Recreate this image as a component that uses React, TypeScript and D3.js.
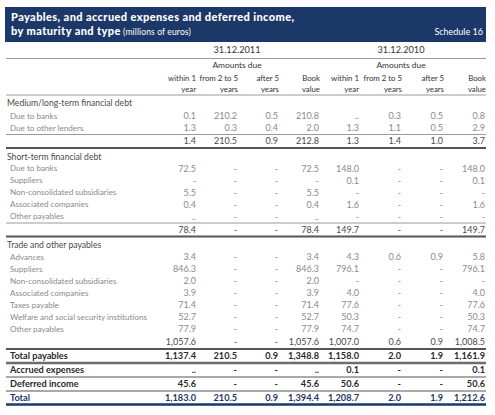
import React from "react";
import * as d3 from "d3";

const W = 495;
const H = 415;

const titleLine1 = "Payables, and accrued expenses and deferred income,";
const titleLine2Bold = "by maturity and type";
const titleLine2Unit = " (millions of euros)";
const scheduleLabel = "Schedule 16";

const periods = ["31.12.2011", "31.12.2010"];
const amountsDue = "Amounts due";
const colHeads = [
  ["within 1", "year"],
  ["from 2 to 5", "years"],
  ["after 5", "years"],
  ["Book", "value"],
];

const mediumTitle = "Medium/long-term financial debt";
const mediumLabels = ["Due to banks", "Due to other lenders"];
const mediumValues = [
  ["0.1", "210.2", "0.5", "210.8", "..", "0.3", "0.5", "0.8"],
  ["1.3", "0.3", "0.4", "2.0", "1.3", "1.1", "0.5", "2.9"],
];
const mediumSubtotal = ["1.4", "210.5", "0.9", "212.8", "1.3", "1.4", "1.0", "3.7"];

const shortTitle = "Short-term financial debt";
const shortLabels = ["Due to banks", "Suppliers", "Non-consolidated subsidiaries", "Associated companies", "Other payables"];
const shortValues = [
  ["72.5", "-", "-", "72.5", "148.0", "-", "-", "148.0"],
  ["-", "-", "-", "-", "0.1", "-", "-", "0.1"],
  ["5.5", "-", "-", "5.5", "-", "-", "-", "-"],
  ["0.4", "-", "-", "0.4", "1.6", "-", "-", "1.6"],
  ["..", "-", "-", "..", "-", "-", "-", "-"],
];
const shortSubtotal = ["78.4", "-", "-", "78.4", "149.7", "-", "-", "149.7"];

const tradeTitle = "Trade and other payables";
const tradeLabels = [
  "Advances",
  "Suppliers",
  "Non-consolidated subsidiaries",
  "Associated companies",
  "Taxes payable",
  "Welfare and social security institutions",
  "Other payables",
];
const tradeValues = [
  ["3.4", "-", "-", "3.4", "4.3", "0.6", "0.9", "5.8"],
  ["846.3", "-", "-", "846.3", "796.1", "-", "-", "796.1"],
  ["2.0", "-", "-", "2.0", "-", "-", "-", "-"],
  ["3.9", "-", "-", "3.9", "4.0", "-", "-", "4.0"],
  ["71.4", "-", "-", "71.4", "77.6", "-", "-", "77.6"],
  ["52.7", "-", "-", "52.7", "50.3", "-", "-", "50.3"],
  ["77.9", "-", "-", "77.9", "74.7", "-", "-", "74.7"],
];
const tradeSubtotal = ["1,057.6", "-", "-", "1,057.6", "1,007.0", "0.6", "0.9", "1,008.5"];

const totalLabels = ["Total payables", "Accrued expenses", "Deferred income", "Total"];
const totalValues = [
  ["1,137.4", "210.5", "0.9", "1,348.8", "1,158.0", "2.0", "1.9", "1,161.9"],
  ["..", "-", "-", "..", "0.1", "-", "-", "0.1"],
  ["45.6", "-", "-", "45.6", "50.6", "-", "-", "50.6"],
  ["1,183.0", "210.5", "0.9", "1,394.4", "1,208.7", "2.0", "1.9", "1,212.6"],
];

const NAVY = "#1c3868";
const FONT = "Lato, 'Open Sans', sans-serif";

type Row = { kind: string; label?: string; values?: string[]; y: number };
type Rule = { y: number; w: number; c: string };

function layout() {
  const rows: Row[] = [];
  const rules: Rule[] = [];
  let y = 95;
  rules.push({ y, w: 1, c: "#9a9a9a" });
  const section = (title: string, labels: string[], vals: string[][], sub: string[], subLine: boolean, first: boolean) => {
    y += first ? 8 : 8.5;
    rows.push({ kind: "section", label: title, y });
    y += first ? 13 : 12;
    labels.forEach((l, i) => {
      rows.push({ kind: "item", label: l, values: vals[i], y });
      if (i < labels.length - 1) y += 12;
    });
    if (subLine) {
      y += 6.5;
      rules.push({ y, w: 1, c: "#9a9a9a" });
      y += 6.5;
    } else {
      y += 13;
    }
    rows.push({ kind: "subtotal", values: sub, y });
    y += 7;
    rules.push({ y, w: 2, c: "#555" });
  };
  section(mediumTitle, mediumLabels, mediumValues, mediumSubtotal, true, true);
  section(shortTitle, shortLabels, shortValues, shortSubtotal, true, false);
  section(tradeTitle, tradeLabels, tradeValues, tradeSubtotal, false, false);
  const gaps = [7, 7, 7, 6.5];
  const after = [
    { w: 2.5, c: "#6d6d6d" },
    { w: 1, c: "#555" },
    { w: 1, c: "#555" },
    { w: 2.5, c: NAVY },
  ];
  totalLabels.forEach((l, i) => {
    y += gaps[i];
    rows.push({ kind: i === 3 ? "grand" : "total", label: l, values: totalValues[i], y });
    y += 7;
    rules.push({ y, ...after[i] });
  });
  return { rows, rules };
}

export default function App() {
  const left = 6;
  const right = 486;
  const x2011 = d3.scalePoint<number>().domain([0, 1, 2, 3]).range([196, 319]);
  const x2010 = d3.scalePoint<number>().domain([0, 1, 2, 3]).range([359, 485]);
  const colX = (i: number) => (i < 4 ? x2011(i)! : x2010(i - 4)!);
  const groupCenter = [(x2011(0)! + x2011(2)!) / 2, (x2010(0)! + x2010(2)!) / 2];
  const { rows, rules } = layout();

  const rowStyle = (kind: string) => {
    if (kind === "item") return { fill: "#8a8a8a", weight: 400, size: 8.1, vsize: 9 };
    if (kind === "section") return { fill: "#4a4a4a", weight: 400, size: 8.6, vsize: 9 };
    if (kind === "subtotal") return { fill: "#4a4a4a", weight: 400, size: 9, vsize: 9 };
    if (kind === "total") return { fill: "#2a2a2a", weight: 700, size: 9.2, vsize: 9.2 };
    return { fill: "#1f3560", weight: 700, size: 9.2, vsize: 9.2 };
  };

  return (
    <svg
      width={W}
      height={H}
      style={{ position: "absolute", left: 0, top: 0, background: "#fff" }}
      fontFamily={FONT}
    >
      <rect x={left - 1} y={7} width={right - left + 1} height={35} fill={NAVY} />
      <text x={left + 5} y={21} fill="#fff" fontSize={11} fontWeight={900} letterSpacing={0.4}>
        {titleLine1}
      </text>
      <text x={left + 5} y={34.5} fill="#fff" fontSize={11} fontWeight={900} letterSpacing={0.4}>
        {titleLine2Bold}
        <tspan fontWeight={400} fontSize={8.6} letterSpacing={0.1}>
          {titleLine2Unit}
        </tspan>
      </text>
      <text x={right - 3} y={35} fill="#fff" fontSize={9} textAnchor="end">
        {scheduleLabel}
      </text>

      {periods.map((p, g) => (
        <g key={p}>
          <text x={groupCenter[g]} y={53} fill="#333" fontSize={9.2} textAnchor="middle">
            {p}
          </text>
          <text x={groupCenter[g]} y={68} fill="#333" fontSize={8.4} textAnchor="middle">
            {amountsDue}
          </text>
          {colHeads.map((h, i) => (
            <g key={i}>
              <text x={colX(g * 4 + i) + (i === 0 ? 0 : 1)} y={81} fill="#333" fontSize={7.8} textAnchor="end">
                {h[0]}
              </text>
              <text x={colX(g * 4 + i) + (i === 0 ? 0 : 1)} y={92} fill="#333" fontSize={7.8} textAnchor="end">
                {h[1]}
              </text>
            </g>
          ))}
        </g>
      ))}
      <line x1={left} x2={right} y1={58.5} y2={58.5} stroke="#9a9a9a" strokeWidth={1} />

      {rules.map((r, i) => (
        <line key={i} x1={left} x2={right} y1={r.y} y2={r.y} stroke={r.c} strokeWidth={r.w} />
      ))}

      {rows.map((r, i) => {
        const s = rowStyle(r.kind);
        const lx = r.kind === "section" ? left + 1 : left + 4;
        return (
          <g key={i} fill={s.fill} fontWeight={s.weight}>
            {r.label && (
              <text x={lx} y={r.y} dy="0.35em" fontSize={s.size}>
                {r.label}
              </text>
            )}
            {r.values &&
              r.values.map((v, j) => (
                <text key={j} x={colX(j)} y={r.y} dy="0.35em" textAnchor="end" fontSize={s.vsize}>
                  {v}
                </text>
              ))}
          </g>
        );
      })}
    </svg>
  );
}
